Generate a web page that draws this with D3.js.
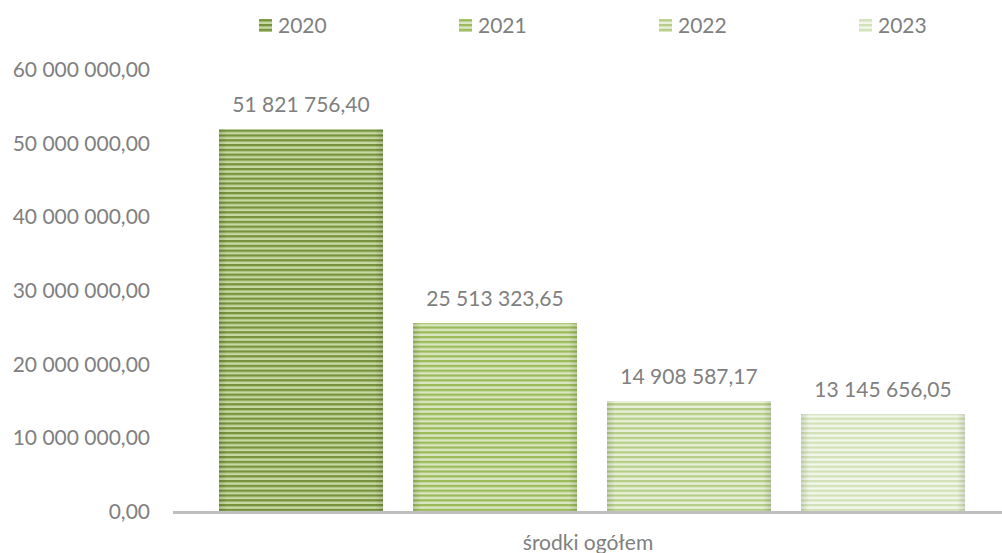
<!DOCTYPE html>
<html><head><meta charset="utf-8">
<script src="https://cdn.jsdelivr.net/npm/d3@7"></script>
<style>html,body{margin:0;padding:0;background:#fff;}svg{display:block;}</style>
</head><body>
<script>
const categories = ["środki ogółem"];
const years = ["2020", "2021", "2022", "2023"];
const values = [51821756.40, 25513323.65, 14908587.17, 13145656.05];
const yTicks = [0, 10000000, 20000000, 30000000, 40000000, 50000000, 60000000];
const darkColors = ["#76923c", "#9bbb59", "#b5cd86", "#d2e1b7"];
const lightColors = ["#c7d9a2", "#dae6c2", "#e8f0d9", "#f2f7ea"];

const W = 1002, H = 553;
const FONT = "Lato, 'Open Sans', sans-serif";
const TXT = "#808080";
const locale = d3.formatLocale({decimal: ",", thousands: " ", grouping: [3], currency: ["", ""]});
const fmt = locale.format(",.2f");

const svg = d3.select("body").append("svg").attr("width", W).attr("height", H);
const defs = svg.append("defs");

years.forEach((yr, i) => {
  const p = defs.append("pattern").attr("id", "pat" + i)
    .attr("patternUnits", "userSpaceOnUse").attr("width", 8).attr("height", 4.8);
  p.append("rect").attr("width", 8).attr("height", 4.8).attr("fill", lightColors[i]);
  p.append("rect").attr("y", 0).attr("width", 8).attr("height", 2).attr("fill", darkColors[i]);
  p.append("rect").attr("y", 2).attr("width", 8).attr("height", 0.8).attr("fill", d3.interpolateRgb(darkColors[i], lightColors[i])(0.5));
});
const edge = defs.append("linearGradient").attr("id", "edge").attr("x1", 0).attr("x2", 1).attr("y1", 0).attr("y2", 0);
edge.append("stop").attr("offset", 0).attr("stop-color", "#000").attr("stop-opacity", 0.12);
edge.append("stop").attr("offset", 0.05).attr("stop-color", "#000").attr("stop-opacity", 0);
edge.append("stop").attr("offset", 0.95).attr("stop-color", "#000").attr("stop-opacity", 0);
edge.append("stop").attr("offset", 1).attr("stop-color", "#000").attr("stop-opacity", 0.12);

const y = d3.scaleLinear().domain([0, 60000000]).range([511, 69]);
const x0 = d3.scaleBand().domain(categories).range([173, 1011]).padding(0);
const p = 30 / 194;
const x1 = d3.scaleBand().domain(years).range([31, 807]).paddingInner(p).paddingOuter(p / 2);

// y axis labels
const yAxis = d3.axisLeft(y).tickValues(yTicks).tickFormat(fmt).tickSize(0).tickPadding(0);
const gy = svg.append("g").attr("transform", "translate(150,0)").call(yAxis);
gy.select(".domain").remove();
gy.selectAll("text").attr("fill", TXT).attr("font-family", FONT).attr("font-size", 21).attr("dy", "0.35em");

// bars
const gc = svg.append("g").attr("transform", `translate(${x0(categories[0])},0)`);
years.forEach((yr, i) => {
  const bx = x1(yr), bw = x1.bandwidth(), by = y(values[i]), bh = y(0) - y(values[i]);
  gc.append("rect").attr("x", bx).attr("y", by).attr("width", bw).attr("height", bh).attr("fill", `url(#pat${i})`);
  gc.append("rect").attr("x", bx).attr("y", by).attr("width", bw).attr("height", bh).attr("fill", "url(#edge)");
  gc.append("text").attr("x", bx + bw / 2).attr("y", by - 17).attr("text-anchor", "middle")
    .attr("fill", TXT).attr("font-family", FONT).attr("font-size", 21).text(fmt(values[i]));
});

// x axis
const xAxis = d3.axisBottom(x0).tickSize(0).tickPadding(0);
const gx = svg.append("g").attr("transform", `translate(0,${y(0)})`).call(xAxis);
gx.select(".domain").remove();
gx.append("line").attr("x1", 173).attr("x2", 1011).attr("y1", 1.5).attr("y2", 1.5).attr("stroke", "#bfbfbf").attr("stroke-width", 3);
gx.selectAll(".tick text").attr("fill", TXT).attr("font-family", FONT).attr("font-size", 21).attr("y", 39).attr("dy", 0).attr("dx", -4);

// legend
const lg = svg.append("g");
years.forEach((yr, i) => {
  const lx = 259 + i * 200;
  lg.append("rect").attr("x", lx).attr("y", 19).attr("width", 13).attr("height", 13).attr("fill", `url(#pat${i})`);
  lg.append("text").attr("x", lx + 19).attr("y", 33).attr("fill", TXT).attr("font-family", FONT).attr("font-size", 21).text(yr);
});
</script>
</body></html>
